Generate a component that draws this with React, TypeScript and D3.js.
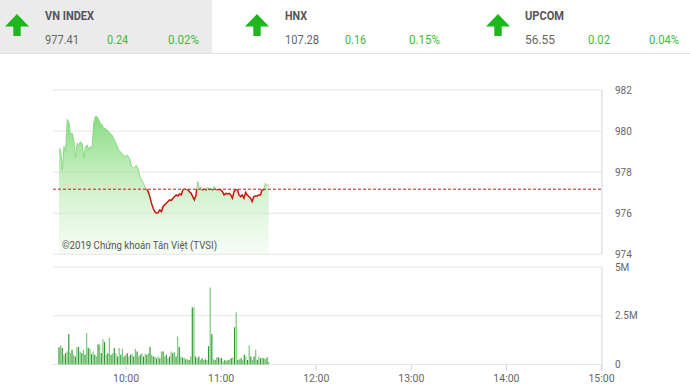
import React from "react";
import * as d3 from "d3";

// ---------- DATA ----------
const indexNames = ["VN INDEX", "HNX", "UPCOM"];
const indexValues = ["977.41", "107.28", "56.55"];
const indexChanges = ["0.24", "0.16", "0.02"];
const indexPercents = ["0.02%", "0.15%", "0.04%"];

const refPrice = 977.17;
const priceTicks = [974, 976, 978, 980, 982];
const volumeTicks = [0, 2.5e6, 5e6];
const volumeTickLabels = ["0", "2.5M", "5M"];
const timeTicks = ["10:00", "11:00", "12:00", "13:00", "14:00", "15:00"];
const sessionStart = "09:15";
const sessionEnd = "15:00";
const dataStart = "09:17.7";
const dataEnd = "11:30";

const prices = [
  979.17, 979.09, 978.11, 979.25, 979.01, 980.58, 980.39, 979.82, 979.9, 979.49,
  978.73, 979.41, 979.33, 979.49, 979.41, 978.68, 979.25, 979.33, 979.09, 979.25,
  979.17, 980.39, 980.71, 980.71, 980.55, 980.39, 980.31, 980.14, 980.14, 980.06,
  979.98, 979.9, 979.82, 979.66, 979.49, 979.33, 979.09, 979.01, 978.92, 978.84,
  978.76, 978.84, 978.76, 978.6, 978.28, 978.19, 978.28, 978.32, 978.11, 977.79,
  977.62, 977.46, 977.3, 977.19, 977.05, 976.81, 976.49, 976.24, 976.08, 976.0,
  976.03, 976.16, 976.08, 976.32, 976.41, 976.49, 976.57, 976.65, 976.62, 976.73,
  976.81, 976.89, 976.84, 976.94, 976.89, 977.14, 977.22, 977.17, 977.14, 977.05,
  976.97, 976.81, 976.65, 976.89, 977.54, 977.22, 977.27, 977.14, 977.22, 977.14,
  977.27, 977.17, 977.22, 977.14, 977.3, 977.17, 977.14, 977.17, 977.14, 977.05,
  976.89, 976.97, 976.94, 976.97, 976.89, 976.73, 977.05, 977.14, 977.17, 976.89,
  976.81, 976.89, 976.73, 977.01, 976.89, 976.81, 976.73, 976.57, 976.81, 976.84,
  976.84, 976.89, 976.89, 977.14, 977.14, 977.46, 977.33, 977.41,
];

// volumes in millions of shares
const volumes = [
  0.89, 0.98, 0.85, 0.5, 0.58, 0.67, 1.56, 0.58, 0.76, 0.5,
  0.41, 0.9, 0.9, 0.67, 0.58, 0.76, 0.5, 1.61, 0.85, 0.8,
  0.53, 0.67, 0.5, 0.41, 1.03, 1.03, 0.58, 1.29, 1.15, 0.5,
  0.58, 1.38, 0.5, 0.58, 0.85, 0.58, 0.41, 0.85, 0.5, 0.8,
  0.41, 0.5, 0.58, 0.41, 0.5, 0.53, 0.41, 0.8, 0.67, 0.41,
  0.5, 0.58, 0.41, 0.55, 0.5, 0.58, 0.9, 0.5, 0.41, 0.41,
  0.32, 0.41, 0.32, 0.67, 0.67, 0.41, 0.5, 0.32, 0.41, 0.67,
  0.58, 0.64, 0.41, 1.44, 0.9, 0.41, 0.35, 0.35, 0.27, 0.27,
  0.23, 0.41, 2.93, 2.93, 0.41, 0.32, 0.41, 0.23, 0.32, 0.23,
  0.27, 0.23, 0.94, 3.95, 1.56, 0.27, 0.23, 0.37, 0.37, 0.32,
  0.32, 0.14, 0.23, 0.18, 0.23, 0.27, 0.32, 0.37, 1.91, 2.68,
  0.23, 0.27, 0.32, 0.23, 0.5, 0.41, 0.23, 0.98, 0.41, 0.23,
  0.41, 0.76, 0.23, 0.41, 0.32, 0.35, 0.32, 0.27, 0.37, 0.14,
];

// ---------- HELPERS ----------
const toMin = (s: string) => {
  const [h, m] = s.split(":");
  return +h * 60 + parseFloat(m);
};

const W = 690;
const H = 390;
const plotLeft = 53;
const plotRight = 602;

const x = d3.scaleLinear().domain([toMin(sessionStart), toMin(sessionEnd)]).range([54.75, 601.5]);
const yP = d3.scaleLinear().domain([974, 982]).range([254.3, 90]);
const yV = d3.scaleLinear().domain([0, 5e6]).range([364.5, 267]);

const t0 = toMin(dataStart);
const t1 = toMin(dataEnd);
const priceData = prices.map((v, i) => ({ t: t0 + (i * (t1 - t0)) / (prices.length - 1), v }));
const volData = volumes.map((v, i) => ({ t: t0 + (i * (t1 - t0)) / (volumes.length - 1), v: v * 1e6 }));

const linePath = d3.line<{ t: number; v: number }>().x((d) => x(d.t)).y((d) => yP(d.v))(priceData) || "";
const areaPath =
  d3
    .area<{ t: number; v: number }>()
    .x((d) => x(d.t))
    .y0(yP(974))
    .y1((d) => yP(d.v))(priceData) || "";

const refY = yP(refPrice);

const condensed = "Roboto, 'Noto Sans', sans-serif";

function Arrow({ cx }: { cx: number }) {
  const top = 14;
  const path = `M${cx},${top} L${cx + 12},${top + 12.5} L${cx + 3.7},${top + 12.5} L${cx + 3.7},${top + 22} L${cx - 3.7},${top + 22} L${cx - 3.7},${top + 12.5} L${cx - 12},${top + 12.5} Z`;
  return <path d={path} fill="#1cb81c" />;
}

const headerPos = [
  { arrow: 17, name: 45, nameW: 49, val: 45, valW: 34, chg: 107, chgW: 21, pct: 168, pctW: 31 },
  { arrow: 257, name: 285, nameW: 22, val: 285, valW: 34, chg: 345, chgW: 21, pct: 409, pctW: 31 },
  { arrow: 498, name: 525, nameW: 39, val: 525, valW: 30, chg: 588, chgW: 22, pct: 649, pctW: 30 },
];

export default function App() {
  return (
    <svg width={W} height={H} style={{ position: "absolute", left: 0, top: 0, background: "#fff" }} fontFamily={condensed}>
      <defs>
        <linearGradient id="areaGrad" gradientUnits="userSpaceOnUse" x1="0" y1="115" x2="0" y2="254">
          <stop offset="0" stopColor="#7fd977" stopOpacity="0.95" />
          <stop offset="0.5" stopColor="#a9e6a2" stopOpacity="0.6" />
          <stop offset="1" stopColor="#d6f4d2" stopOpacity="0.25" />
        </linearGradient>
        <clipPath id="aboveRef">
          <rect x={0} y={0} width={W} height={refY} />
        </clipPath>
        <clipPath id="belowRef">
          <rect x={0} y={refY} width={W} height={H - refY} />
        </clipPath>
      </defs>

      {/* Header */}
      <rect x={0} y={0} width={212} height={53} fill="#ebebeb" />
      <line x1={0} x2={W} y1={53.5} y2={53.5} stroke="#e2e2e2" />
      {indexNames.map((n, i) => {
        const p = headerPos[i];
        return (
          <g key={n}>
            <Arrow cx={p.arrow} />
            <text x={p.name} y={20} fontSize={12.5} fontWeight="bold" fill="#555" textLength={p.nameW} lengthAdjust="spacingAndGlyphs">
              {n}
            </text>
            <text x={p.val} y={43.5} fontSize={13.5} fill="#666" textLength={p.valW} lengthAdjust="spacingAndGlyphs">
              {indexValues[i]}
            </text>
            <text x={p.chg} y={43.5} fontSize={13.5} fill="#3cba3c" textLength={p.chgW} lengthAdjust="spacingAndGlyphs">
              {indexChanges[i]}
            </text>
            <text x={p.pct} y={43.5} fontSize={13.5} fill="#3cba3c" textLength={p.pctW} lengthAdjust="spacingAndGlyphs">
              {indexPercents[i]}
            </text>
          </g>
        );
      })}

      {/* Price grid */}
      {priceTicks.map((t) => (
        <g key={t}>
          <line x1={plotLeft} x2={plotRight} y1={yP(t)} y2={yP(t)} stroke="#e6e6e6" />
          <text x={615} y={yP(t) + 3.5} fontSize={10} fill="#666">
            {t}
          </text>
        </g>
      ))}
      <line x1={plotRight} x2={plotRight} y1={yP(982)} y2={yP(974)} stroke="#ccd6eb" />

      {/* Price area + line */}
      <path d={areaPath} fill="url(#areaGrad)" />
      <path d={linePath} fill="none" stroke="#8ad883" strokeWidth={1} clipPath="url(#aboveRef)" />
      <path d={linePath} fill="none" stroke="#d01010" strokeWidth={1.5} clipPath="url(#belowRef)" />
      <line x1={plotLeft} x2={plotRight} y1={refY} y2={refY} stroke="#c81818" strokeWidth={1} strokeDasharray="3,2" />

      <text x={62} y={248.5} fontSize={11} fill="#555" textLength={155} lengthAdjust="spacingAndGlyphs">
        ©2019 Chứng khoán Tân Việt (TVSI)
      </text>

      {/* Volume grid */}
      {volumeTicks.map((t, i) => (
        <g key={t}>
          <line x1={plotLeft} x2={plotRight} y1={yV(t)} y2={yV(t)} stroke="#e6e6e6" />
          <text x={615} y={yV(t) + 3.5} fontSize={10} fill="#666">
            {volumeTickLabels[i]}
          </text>
        </g>
      ))}
      <line x1={plotRight} x2={plotRight} y1={yV(5e6)} y2={yV(0) + 6} stroke="#ccd6eb" />

      {/* Volume bars */}
      {volData.map((d, i) => (
        <rect
          key={i}
          x={x(d.t) - 0.6}
          y={yV(d.v)}
          width={1.2}
          height={yV(0) - yV(d.v)}
          fill={i % 2 === 0 ? "#2f9a2f" : "#7cc878"}
        />
      ))}

      {/* Time axis */}
      {timeTicks.map((t) => (
        <g key={t}>
          <line x1={x(toMin(t))} x2={x(toMin(t))} y1={yV(0)} y2={yV(0) + 6} stroke="#ccd6eb" />
          <text x={x(toMin(t))} y={382} fontSize={10.5} fill="#666" textAnchor="middle">
            {t}
          </text>
        </g>
      ))}
    </svg>
  );
}
